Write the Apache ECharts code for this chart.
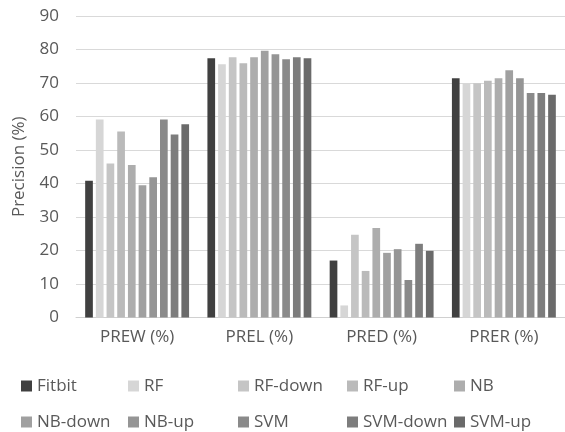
<!DOCTYPE html>
<html>
<head>
<meta charset="utf-8">
<script src="https://cdn.jsdelivr.net/npm/echarts@6/dist/echarts.min.js"></script>
<style>
html,body{margin:0;padding:0;background:#fff;}
#chart{width:565px;height:432px;}
</style>
</head>
<body>
<div id="chart"></div>
<script>
var categories = ['PREW (%)', 'PREL (%)', 'PRED (%)', 'PRER (%)'];
var seriesNames = ['Fitbit', 'RF', 'RF-down', 'RF-up', 'NB', 'NB-down', 'NB-up', 'SVM', 'SVM-down', 'SVM-up'];
var fitbit  = [40.8, 77.4, 17.0, 71.4];
var rf      = [59.1, 75.6, 3.6, 69.9];
var rfDown  = [46.0, 77.7, 24.7, 69.9];
var rfUp    = [55.5, 75.9, 13.9, 70.7];
var nb      = [45.5, 77.7, 26.7, 71.4];
var nbDown  = [39.5, 79.6, 19.3, 73.8];
var nbUp    = [41.9, 78.6, 20.4, 71.4];
var svm     = [59.1, 77.1, 11.2, 67.0];
var svmDown = [54.6, 77.7, 22.0, 67.0];
var svmUp   = [57.7, 77.4, 19.9, 66.5];
var yTicks = [0, 10, 20, 30, 40, 50, 60, 70, 80, 90];

var values = [fitbit, rf, rfDown, rfUp, nb, nbDown, nbUp, svm, svmDown, svmUp];
var colors = ['#404040', '#d6d6d6', '#c5c5c5', '#bababa', '#adadad', '#a0a0a0', '#959595', '#8a8a8a', '#7d7d7d', '#6a6a6a'];

// legend layout (columns / rows)
var legendCols = [21, 128, 238, 347, 454];
var legendRows = [377, 413];

var FONT = '"Open Sans", sans-serif';
var TXT = '#595959';

var chart = echarts.init(document.getElementById('chart'), null, {renderer: 'canvas'});

var legends = seriesNames.map(function (name, i) {
  return {
    data: [name],
    left: legendCols[i % 5],
    top: legendRows[Math.floor(i / 5)],
    itemWidth: 11,
    itemHeight: 11,
    itemGap: 0,
    padding: 0,
    icon: 'rect',
    selectedMode: false,
    textStyle: {fontFamily: FONT, fontSize: 17, color: TXT, padding: [0, 0, 0, 0], lineHeight: 18},
    itemStyle: {borderWidth: 0}
  };
});

var series = seriesNames.map(function (name, i) {
  return {
    name: name,
    type: 'bar',
    data: values[i],
    barGap: '39%',
    barCategoryGap: '15%',
    itemStyle: {color: colors[i]},
    emphasis: {disabled: true}
  };
});

chart.setOption({
  animation: false,
  color: colors,
  legend: legends,
  grid: {left: 76, right: 0, top: 16, bottom: 114.5, containLabel: false},
  xAxis: {
    type: 'category',
    data: categories,
    axisTick: {show: false},
    axisLine: {lineStyle: {color: '#d0d0d0', width: 1}},
    axisLabel: {fontFamily: FONT, fontSize: 17, color: TXT, margin: 11}
  },
  yAxis: {
    type: 'value',
    min: yTicks[0],
    max: yTicks[yTicks.length - 1],
    interval: 10,
    name: 'Precision (%)',
    nameLocation: 'middle',
    nameGap: 48,
    nameTextStyle: {fontFamily: FONT, fontSize: 17, color: TXT},
    axisLine: {show: false},
    axisTick: {show: false},
    axisLabel: {fontFamily: FONT, fontSize: 17, color: TXT, margin: 17},
    splitLine: {lineStyle: {color: '#d9d9d9', width: 1}}
  },
  series: series
});
</script>
</body>
</html>
